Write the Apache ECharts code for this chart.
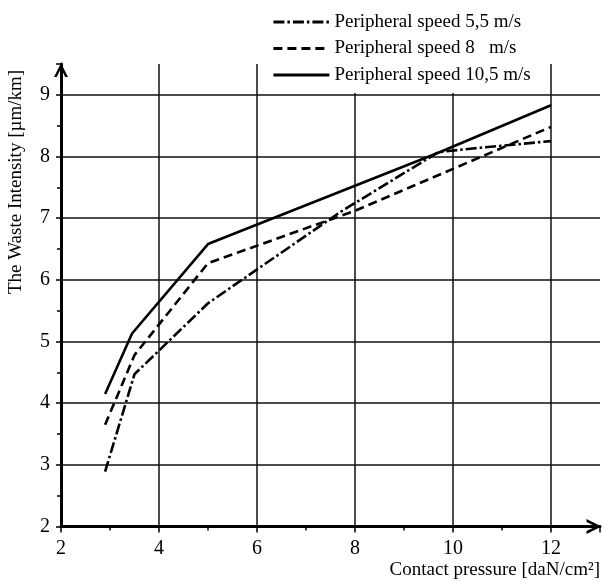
<!DOCTYPE html>
<html>
<head>
<meta charset="utf-8">
<script src="https://cdn.jsdelivr.net/npm/echarts@6/dist/echarts.min.js"></script>
<style>
html,body{margin:0;padding:0;background:#fff;}
#chart{width:602px;height:583px;}
</style>
</head>
<body>
<div id="chart"></div>
<script>
// ---- data ----
const seriesNames = ['Peripheral speed 5,5 m/s', 'Peripheral speed 8   m/s', 'Peripheral speed 10,5 m/s'];
const pressure55 = [2.9, 3.5, 5, 7.7, 9.7, 10.4, 12];
const waste55    = [2.89, 4.47, 5.62, 7.1, 8.07, 8.13, 8.25];
const pressure8  = [2.9, 3.5, 5, 8, 10, 12];
const waste8     = [3.65, 4.78, 6.27, 7.12, 7.8, 8.48];
const pressure105 = [2.9, 3.45, 5, 9.7, 12];
const waste105    = [4.15, 5.13, 6.58, 8.06, 8.83];
const xTickLabels = ['2', '4', '6', '8', '10', '12'];
const yTickLabels = ['2', '3', '4', '5', '6', '7', '8', '9'];
const xAxisTitle = 'Contact pressure [daN/cm²]';
const yAxisTitle = 'The Waste Intensity [µm/km]';

function pairs(xs, ys) { return xs.map((x, i) => [x, ys[i]]); }

const FONT = 'Liberation Serif';
const chevron = 'path://M0,20 L10,0 L20,20 L16,20 L10,7.5 L4,20 Z';

const chart = echarts.init(document.getElementById('chart'), null, {renderer: 'canvas'});
chart.setOption({
  backgroundColor: '#fff',
  animation: false,
  textStyle: {fontFamily: FONT, color: '#000'},
  grid: {left: 61, top: 64, width: 539, height: 462.5, containLabel: false},
  legend: {
    orient: 'vertical',
    left: 267,
    top: 4,
    padding: [8, 5, 8, 5],
    backgroundColor: '#fff',
    itemWidth: 56,
    itemHeight: 14,
    itemGap: 6.5,
    itemStyle: {opacity: 0},
    lineStyle: {width: 2.8},
    textStyle: {fontFamily: FONT, fontSize: 19, color: '#000', lineHeight: 20},
    data: seriesNames
  },
  xAxis: {
    type: 'value',
    min: 2, max: 13, interval: 2,
    axisLine: {show: true, lineStyle: {color: '#000', width: 3}, symbol: ['none', chevron], symbolSize: [22, 15], symbolOffset: [0, -6]},
    axisTick: {show: true, length: 6, lineStyle: {color: '#000', width: 1.5}},
    minorTick: {show: true, splitNumber: 2, length: 4, lineStyle: {color: '#000', width: 1.5}},
    axisLabel: {
      fontFamily: FONT, fontSize: 20, color: '#000', margin: 12,
      showMaxLabel: false,
      formatter: function (v) { const s = String(v); return xTickLabels.indexOf(s) >= 0 ? s : ''; }
    },
    splitLine: {show: true, showMinLine: false, showMaxLine: false, lineStyle: {color: '#111', width: 1.5}}
  },
  yAxis: {
    type: 'value',
    min: 2, max: 9.5, interval: 1,
    axisLine: {show: true, lineStyle: {color: '#000', width: 3}, symbol: ['none', chevron], symbolSize: [16, 14], symbolOffset: [0, -6]},
    axisTick: {show: true, length: 5, lineStyle: {color: '#000', width: 1.5}},
    minorTick: {show: true, splitNumber: 2, length: 4, lineStyle: {color: '#000', width: 1.5}},
    axisLabel: {
      fontFamily: FONT, fontSize: 20, color: '#000', margin: 11,
      showMaxLabel: false,
      formatter: function (v) { const s = String(v); return yTickLabels.indexOf(s) >= 0 ? s : ''; }
    },
    splitLine: {show: true, showMinLine: false, showMaxLine: false, lineStyle: {color: '#111', width: 1.5}}
  },
  series: [
    {
      name: seriesNames[0], type: 'line', symbol: 'none', smooth: false,
      data: pairs(pressure55, waste55),
      lineStyle: {color: '#000', width: 2.6, type: [11, 3, 2.5, 3]},
      itemStyle: {color: '#000'}
    },
    {
      name: seriesNames[1], type: 'line', symbol: 'none', smooth: false,
      data: pairs(pressure8, waste8),
      lineStyle: {color: '#000', width: 2.6, type: [9, 5]},
      itemStyle: {color: '#000'}
    },
    {
      name: seriesNames[2], type: 'line', symbol: 'none', smooth: false,
      data: pairs(pressure105, waste105),
      lineStyle: {color: '#000', width: 2.6, type: 'solid'},
      itemStyle: {color: '#000'}
    }
  ],
  graphic: [
    {
      type: 'text', right: 2, bottom: 3,
      style: {text: xAxisTitle, font: '19px "Liberation Serif"', fill: '#000'}
    },
    {
      type: 'text', x: 16, y: 182, rotation: Math.PI / 2,
      style: {text: yAxisTitle, font: '19px "Liberation Serif"', fill: '#000', align: 'center', verticalAlign: 'middle'}
    }
  ]
});
</script>
</body>
</html>
